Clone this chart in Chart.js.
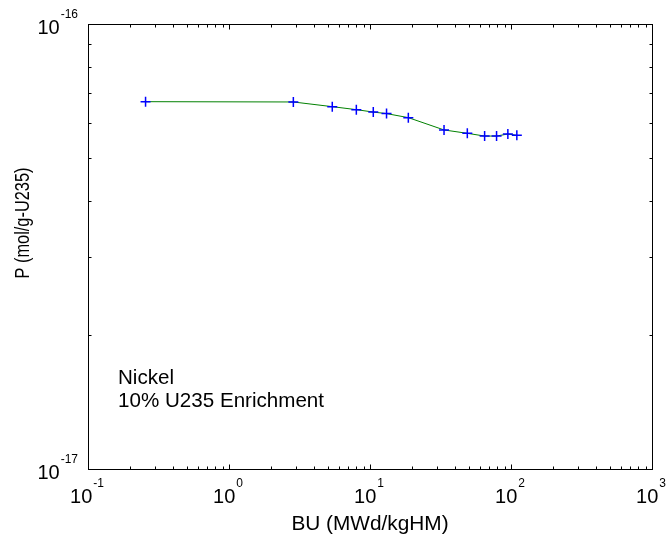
<!DOCTYPE html>
<html>
<head>
<meta charset="utf-8">
<title>Nickel production vs burnup</title>
<script src="https://cdn.jsdelivr.net/npm/chart.js@4.4.1/dist/chart.umd.min.js"></script>
<style>
  body { margin: 0; background: #fff; }
  #wrap { width: 667px; height: 537px; }
</style>
</head>
<body>
<div id="wrap"><canvas id="chart" width="667" height="537"></canvas></div>
<script>
// burnup (MWd/kgHM) and Ni production (mol/g-U235)
var burnup = [0.256, 2.86, 5.4, 8.0, 10.55, 13.1, 18.7, 33.5, 49, 65, 79, 95, 110];
var production = [6.69e-17, 6.68e-17, 6.52e-17, 6.42e-17, 6.34e-17, 6.29e-17, 6.16e-17,
                  5.78e-17, 5.68e-17, 5.60e-17, 5.60e-17, 5.66e-17, 5.62e-17];

// axis decades, drawn as 10^n
var xExps = [-1, 0, 1, 2, 3];
var yExps = [-17, -16];

var noteLines = ['Nickel', '10% U235 Enrichment'];
var xTitle = 'BU (MWd/kgHM)';
var yTitle = 'P (mol/g-U235)';

var FONT = '"Liberation Sans", Arial, sans-serif';

var points = [];
for (var i = 0; i < burnup.length; i++) {
    points.push({ x: burnup[i], y: production[i] });
}

function pow10Label(ctx, exp, px, py, align) {
    ctx.font = '20px ' + FONT;
    var w1 = ctx.measureText('10').width;
    ctx.font = '12px ' + FONT;
    var w2 = ctx.measureText(String(exp)).width;
    var start;
    if (align === 'center') {
        start = px - (w1 + w2 + 1) / 2 - 1;
    } else {
        start = px - (w1 + w2 + 1);
    }
    ctx.textAlign = 'left';
    ctx.textBaseline = 'alphabetic';
    ctx.font = '20px ' + FONT;
    ctx.fillText('10', start, py);
    ctx.font = '12px ' + FONT;
    ctx.fillText(String(exp), start + w1 + 1, py - 16);
}

// box, inward ticks, power-of-ten labels, titles and note
var framePlugin = {
    id: 'frame',
    afterDraw: function (chart) {
        var ctx = chart.ctx;
        var a = chart.chartArea;
        var xs = chart.scales.x;
        var ys = chart.scales.y;
        var L = Math.round(a.left) + 0.5, R = Math.round(a.right) + 0.5;
        var T = Math.round(a.top) + 0.5, B = Math.round(a.bottom) + 0.5;
        var m, d, p, len;

        ctx.save();
        ctx.strokeStyle = '#000';
        ctx.lineWidth = 1;
        ctx.strokeRect(L, T, R - L, B - T);

        ctx.beginPath();
        for (d = xExps[0]; d < xExps[xExps.length - 1]; d++) {
            for (m = 1; m <= 9; m++) {
                p = Math.round(xs.getPixelForValue(m * Math.pow(10, d))) + 0.5;
                len = m === 1 ? 5 : 3;
                ctx.moveTo(p, B); ctx.lineTo(p, B - len);
                ctx.moveTo(p, T); ctx.lineTo(p, T + len);
            }
        }
        for (d = yExps[0]; d < yExps[yExps.length - 1]; d++) {
            for (m = 2; m <= 9; m++) {
                p = Math.round(ys.getPixelForValue(m * Math.pow(10, d))) + 0.5;
                ctx.moveTo(L, p); ctx.lineTo(L + 3, p);
                ctx.moveTo(R, p); ctx.lineTo(R - 3, p);
            }
        }
        ctx.stroke();

        ctx.fillStyle = '#000';
        xExps.forEach(function (e) {
            pow10Label(ctx, e, xs.getPixelForValue(Math.pow(10, e)), a.bottom + 34, 'center');
        });
        yExps.forEach(function (e) {
            pow10Label(ctx, e, a.left - 10, ys.getPixelForValue(Math.pow(10, e)) + 10, 'right');
        });

        ctx.font = '20.8px ' + FONT;
        ctx.textAlign = 'center';
        ctx.fillText(xTitle, (a.left + a.right) / 2, a.bottom + 61);

        // y title is a bit narrower along its length
        ctx.save();
        ctx.font = '19.5px ' + FONT;
        ctx.translate(29, a.top + 199);
        ctx.rotate(-Math.PI / 2);
        ctx.scale(0.84, 1);
        ctx.fillText(yTitle, 0, 0);
        ctx.restore();

        ctx.font = '20.6px ' + FONT;
        ctx.textAlign = 'left';
        noteLines.forEach(function (t, k) {
            ctx.fillText(t, a.left + 30, a.bottom - 85 + k * 23);
        });
        ctx.restore();
    }
};

new Chart(document.getElementById('chart'), {
    type: 'line',
    data: {
        datasets: [
            {
                label: 'Ni',
                data: points,
                borderColor: '#008000',
                borderWidth: 1,
                tension: 0,
                pointStyle: 'cross',
                pointRadius: 5,
                pointBorderWidth: 1.5,
                pointBorderColor: '#0000ff',
                pointBackgroundColor: '#0000ff'
            }
        ]
    },
    options: {
        responsive: false,
        animation: false,
        devicePixelRatio: 1,
        layout: { padding: { top: 24, right: 15, left: 0, bottom: 0 } },
        plugins: {
            legend: { display: false },
            tooltip: { enabled: false }
        },
        scales: {
            x: {
                type: 'logarithmic',
                min: 0.1,
                max: 1000,
                grid: { display: false },
                border: { display: false },
                ticks: { display: false },
                afterFit: function (s) { s.height = 68; }
            },
            y: {
                type: 'logarithmic',
                min: 1e-17,
                max: 1e-16,
                grid: { display: false },
                border: { display: false },
                ticks: { display: false },
                afterFit: function (s) { s.width = 88; }
            }
        }
    },
    plugins: [framePlugin]
});
</script>
</body>
</html>
